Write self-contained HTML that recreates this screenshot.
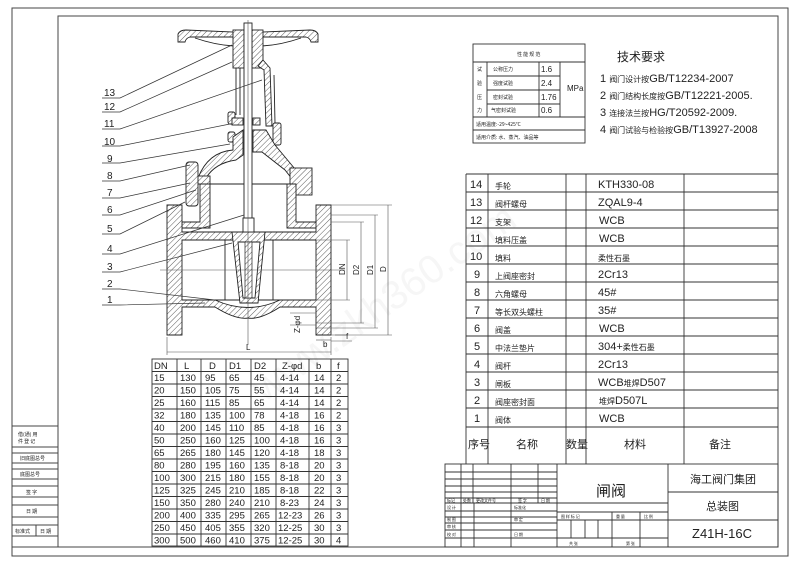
<!DOCTYPE html>
<html><head><meta charset="utf-8"><style>
html,body{margin:0;padding:0;background:#fff;}
svg{display:block;}
text{font-family:"Liberation Sans","Noto Sans CJK SC",sans-serif;fill:#222;}
.cn{font-family:"Noto Sans CJK SC","WenQuanYi Zen Hei",sans-serif;}
</style></head><body>
<svg width="800" height="565" viewBox="0 0 800 565" xmlns="http://www.w3.org/2000/svg">
<defs>
<pattern id="h" patternUnits="userSpaceOnUse" width="4" height="4" patternTransform="rotate(45)">
<rect width="4" height="4" fill="#fff"/><line x1="0" y1="0" x2="0" y2="4" stroke="#333" stroke-width="0.8"/>
</pattern>
</defs>
<rect width="800" height="565" fill="#fff"/>
<g stroke="#444" fill="none" stroke-width="1">
<rect x="12" y="8" width="776" height="548"/>
<polyline points="58,547 58,16 778,16 778,547 12,547"/>
<!-- left strip -->
<line x1="12" y1="426" x2="58" y2="426"/>
<line x1="12" y1="447" x2="58" y2="447"/>
<line x1="12" y1="453" x2="58" y2="453"/>
<line x1="12" y1="463" x2="58" y2="463"/>
<line x1="12" y1="469" x2="58" y2="469"/>
<line x1="12" y1="479" x2="58" y2="479"/>
<line x1="12" y1="486" x2="58" y2="486"/>
<line x1="12" y1="497" x2="58" y2="497"/>
<line x1="12" y1="505" x2="58" y2="505"/>
<line x1="12" y1="517" x2="58" y2="517"/>
<line x1="12" y1="525" x2="58" y2="525"/>
<line x1="12" y1="536" x2="58" y2="536"/>
<line x1="36" y1="525" x2="36" y2="536"/>
</g>
<g font-size="5" class="cn">
<text x="18" y="436" class="cn">借(通) 用</text><text x="18" y="443" class="cn">件 登 记</text>
<text x="20" y="460" class="cn">旧底图总号</text>
<text x="20" y="476" class="cn">底图总号</text>
<text x="26" y="494" class="cn">签 字</text>
<text x="26" y="513" class="cn">日 期</text>
<text x="15" y="533" class="cn">标准式</text><text x="40" y="533" class="cn">日 期</text>
</g>

<!-- spec table -->
<g stroke="#333" fill="none" stroke-width="0.9">
<rect x="473" y="44" width="112" height="99"/>
<line x1="473" y1="62" x2="585" y2="62"/>
<line x1="487" y1="76" x2="560" y2="76"/>
<line x1="487" y1="90" x2="560" y2="90"/>
<line x1="487" y1="104" x2="560" y2="104"/>
<line x1="473" y1="117" x2="585" y2="117"/>
<line x1="473" y1="130" x2="585" y2="130"/>
<line x1="487" y1="62" x2="487" y2="117"/>
<line x1="539" y1="62" x2="539" y2="117"/>
<line x1="560" y1="62" x2="560" y2="117"/>
</g>
<g font-size="5" class="cn">
<text x="517" y="56" class="cn">性 能 规 范</text>
<text x="477" y="71" class="cn">试</text><text x="477" y="85" class="cn">验</text><text x="477" y="99" class="cn">压</text><text x="477" y="112" class="cn">力</text>
<text x="493" y="71" class="cn">公称压力</text><text x="493" y="85" class="cn">强度试验</text><text x="493" y="99" class="cn">密封试验</text><text x="491" y="112" class="cn">气密封试验</text>
<text x="476" y="126" class="cn">适用温度:-29~425℃</text>
<text x="476" y="139" class="cn">适用介质: 水、蒸汽、油品等</text>
</g>
<g font-size="8"><text x="541" y="72">1.6</text><text x="541" y="86">2.4</text><text x="541" y="100">1.76</text><text x="541" y="113">0.6</text><text x="567" y="91">MPa</text></g>
<text x="617" y="61" font-size="12" class="cn">技术要求</text>
<g font-size="11">
<text x="600" y="82">1 <tspan class="cn" font-size="8">阀门设计按</tspan>GB/T12234-2007</text>
<text x="600" y="99">2 <tspan class="cn" font-size="8">阀门结构长度按</tspan>GB/T12221-2005.</text>
<text x="600" y="116">3 <tspan class="cn" font-size="8">连接法兰按</tspan>HG/T20592-2009.</text>
<text x="600" y="133">4 <tspan class="cn" font-size="8">阀门试验与检验按</tspan>GB/T13927-2008</text>
</g>

<!-- parts table -->
<g stroke="#333" fill="none" stroke-width="0.9">
<line x1="466" y1="174" x2="778" y2="174"/>
<line x1="466" y1="174" x2="466" y2="464"/>
<line x1="488" y1="174" x2="488" y2="464"/>
<line x1="566" y1="174" x2="566" y2="464"/>
<line x1="586" y1="174" x2="586" y2="464"/>
<line x1="684" y1="174" x2="684" y2="464"/>
<g id="rows">
<line x1="466" y1="192" x2="778" y2="192"/><line x1="466" y1="210" x2="778" y2="210"/>
<line x1="466" y1="228" x2="778" y2="228"/><line x1="466" y1="246" x2="778" y2="246"/>
<line x1="466" y1="264" x2="778" y2="264"/><line x1="466" y1="282" x2="778" y2="282"/>
<line x1="466" y1="300" x2="778" y2="300"/><line x1="466" y1="318" x2="778" y2="318"/>
<line x1="466" y1="336" x2="778" y2="336"/><line x1="466" y1="354" x2="778" y2="354"/>
<line x1="466" y1="372" x2="778" y2="372"/><line x1="466" y1="390" x2="778" y2="390"/>
<line x1="466" y1="408" x2="778" y2="408"/><line x1="466" y1="427" x2="778" y2="427"/>
</g>
</g>
<g font-size="11">
<text x="470" y="188">14</text><text x="470" y="206">13</text><text x="470" y="224">12</text><text x="470" y="242">11</text><text x="470" y="260">10</text>
<text x="474" y="278">9</text><text x="474" y="296">8</text><text x="474" y="314">7</text><text x="474" y="332">6</text><text x="474" y="350">5</text>
<text x="474" y="368">4</text><text x="474" y="386">3</text><text x="474" y="404">2</text><text x="474" y="422">1</text>
<text x="598" y="188">KTH330-08</text><text x="598" y="206">ZQAL9-4</text><text x="599" y="224">WCB</text><text x="599" y="242">WCB</text>
<text x="598" y="278">2Cr13</text><text x="598" y="296">45#</text><text x="598" y="314">35#</text><text x="599" y="332">WCB</text>
<text x="598" y="350">304+<tspan class="cn" font-size="8">柔性石墨</tspan></text>
<text x="598" y="368">2Cr13</text><text x="598" y="386">WCB<tspan class="cn" font-size="8">堆焊</tspan>D507</text>
<text x="599" y="404"><tspan class="cn" font-size="8">堆焊</tspan>D507L</text><text x="599" y="422">WCB</text>
</g>
<g font-size="8" class="cn">
<text x="495" y="189" class="cn">手轮</text><text x="495" y="207" class="cn">阀杆螺母</text><text x="495" y="225" class="cn">支架</text><text x="495" y="243" class="cn">填料压盖</text>
<text x="495" y="261" class="cn">填料</text><text x="495" y="279" class="cn">上阀座密封</text><text x="495" y="297" class="cn">六角螺母</text><text x="495" y="315" class="cn">等长双头螺柱</text>
<text x="495" y="333" class="cn">阀盖</text><text x="495" y="351" class="cn">中法兰垫片</text><text x="495" y="369" class="cn">阀杆</text><text x="495" y="387" class="cn">闸板</text>
<text x="495" y="405" class="cn">阀座密封面</text><text x="495" y="423" class="cn">阀体</text>
<text x="598" y="261" class="cn">柔性石墨</text>
</g>
<g font-size="11" class="cn">
<text x="468" y="448" class="cn">序号</text><text x="516" y="448" class="cn">名称</text><text x="566" y="448" class="cn">数量</text><text x="624" y="448" class="cn">材料</text><text x="709" y="448" class="cn">备注</text>
</g>

<!-- title block -->
<g stroke="#333" fill="none" stroke-width="0.9">
<rect x="445" y="464" width="333" height="83"/>
<line x1="557" y1="464" x2="557" y2="547"/>
<line x1="668" y1="464" x2="668" y2="547"/>
<line x1="668" y1="492" x2="778" y2="492"/>
<line x1="668" y1="520" x2="778" y2="520"/>
<line x1="445" y1="472" x2="557" y2="472"/><line x1="445" y1="479" x2="557" y2="479"/>
<line x1="445" y1="486" x2="557" y2="486"/><line x1="445" y1="492" x2="557" y2="492"/>
<line x1="445" y1="498" x2="557" y2="498"/><line x1="445" y1="503" x2="668" y2="503"/>
<line x1="445" y1="511" x2="557" y2="511"/><line x1="445" y1="517" x2="557" y2="517"/>
<line x1="445" y1="523" x2="557" y2="523"/><line x1="445" y1="530" x2="557" y2="530"/>
<line x1="445" y1="538" x2="557" y2="538"/>
<line x1="461" y1="464" x2="461" y2="547"/><line x1="473" y1="464" x2="473" y2="503"/>
<line x1="474" y1="503" x2="474" y2="547"/><line x1="511" y1="464" x2="511" y2="547"/>
<line x1="538" y1="464" x2="538" y2="503"/>
<line x1="557" y1="512" x2="668" y2="512"/><line x1="557" y1="520" x2="668" y2="520"/>
<line x1="557" y1="538" x2="668" y2="538"/>
<line x1="612" y1="512" x2="612" y2="547"/><line x1="640" y1="512" x2="640" y2="547"/>
<line x1="571" y1="520" x2="571" y2="538"/><line x1="585" y1="520" x2="585" y2="538"/><line x1="598" y1="520" x2="598" y2="538"/>
</g>
<g font-size="4" class="cn">
<text x="447" y="502" class="cn">标记</text><text x="463" y="502" class="cn">处数</text><text x="476" y="502" class="cn">更改文件号</text><text x="518" y="502" class="cn">签 字</text><text x="541" y="502" class="cn">日 期</text>
<text x="447" y="509" class="cn">设 计</text><text x="447" y="521" class="cn">制 图</text><text x="447" y="528" class="cn">审 核</text><text x="447" y="536" class="cn">校 对</text>
<text x="514" y="509" class="cn">标准化</text><text x="514" y="521" class="cn">审 定</text><text x="514" y="536" class="cn">日 期</text>
<text x="561" y="518" class="cn">图 样 标 记</text><text x="616" y="518" class="cn">重 量</text><text x="644" y="518" class="cn">比 例</text>
<text x="569" y="545" class="cn">共 张</text><text x="626" y="545" class="cn">第 张</text>
</g>
<text x="596" y="496" font-size="15" fill="#555" class="cn">闸阀</text>
<text x="690" y="483" font-size="11" class="cn">海工阀门集团</text>
<text x="706" y="510" font-size="11" class="cn">总装图</text>
<text x="692" y="538" font-size="13" fill="#444">Z41H-16C</text>

<!-- dimension table -->
<g stroke="#333" fill="none" stroke-width="0.9">
<rect x="152" y="359" width="196" height="187"/>
<line x1="177" y1="359" x2="177" y2="546"/><line x1="201" y1="359" x2="201" y2="546"/>
<line x1="226" y1="359" x2="226" y2="546"/><line x1="251" y1="359" x2="251" y2="546"/>
<line x1="276" y1="359" x2="276" y2="546"/><line x1="309" y1="359" x2="309" y2="546"/>
<line x1="331" y1="359" x2="331" y2="546"/>
<line x1="152" y1="371.5" x2="348" y2="371.5"/><line x1="152" y1="384" x2="348" y2="384"/>
<line x1="152" y1="396.5" x2="348" y2="396.5"/><line x1="152" y1="409" x2="348" y2="409"/>
<line x1="152" y1="421.5" x2="348" y2="421.5"/><line x1="152" y1="434" x2="348" y2="434"/>
<line x1="152" y1="446.5" x2="348" y2="446.5"/><line x1="152" y1="459" x2="348" y2="459"/>
<line x1="152" y1="471.5" x2="348" y2="471.5"/><line x1="152" y1="484" x2="348" y2="484"/>
<line x1="152" y1="496.5" x2="348" y2="496.5"/><line x1="152" y1="509" x2="348" y2="509"/>
<line x1="152" y1="521.5" x2="348" y2="521.5"/><line x1="152" y1="534" x2="348" y2="534"/>
</g>
<g font-size="9.5" fill="#333">
<text x="154" y="369">DN</text><text x="184" y="369">L</text><text x="209" y="369">D</text><text x="229" y="369">D1</text><text x="254" y="369">D2</text><text x="282" y="369">Z-φd</text><text x="316" y="369">b</text><text x="337" y="369">f</text>
</g>
<g font-size="9.5" id="dt"></g>
<g font-size="9.5">
<text y="381"><tspan x="154">15</tspan><tspan x="180">130</tspan><tspan x="205">95</tspan><tspan x="229">65</tspan><tspan x="254">45</tspan><tspan x="280">4-14</tspan><tspan x="314">14</tspan><tspan x="336">2</tspan></text>
<text y="393.5"><tspan x="154">20</tspan><tspan x="180">150</tspan><tspan x="205">105</tspan><tspan x="229">75</tspan><tspan x="254">55</tspan><tspan x="280">4-14</tspan><tspan x="314">14</tspan><tspan x="336">2</tspan></text>
<text y="406"><tspan x="154">25</tspan><tspan x="180">160</tspan><tspan x="205">115</tspan><tspan x="229">85</tspan><tspan x="254">65</tspan><tspan x="280">4-14</tspan><tspan x="314">14</tspan><tspan x="336">2</tspan></text>
<text y="418.5"><tspan x="154">32</tspan><tspan x="180">180</tspan><tspan x="205">135</tspan><tspan x="229">100</tspan><tspan x="254">78</tspan><tspan x="280">4-18</tspan><tspan x="314">16</tspan><tspan x="336">2</tspan></text>
<text y="431"><tspan x="154">40</tspan><tspan x="180">200</tspan><tspan x="205">145</tspan><tspan x="229">110</tspan><tspan x="254">85</tspan><tspan x="280">4-18</tspan><tspan x="314">16</tspan><tspan x="336">3</tspan></text>
<text y="443.5"><tspan x="154">50</tspan><tspan x="180">250</tspan><tspan x="205">160</tspan><tspan x="229">125</tspan><tspan x="254">100</tspan><tspan x="280">4-18</tspan><tspan x="314">16</tspan><tspan x="336">3</tspan></text>
<text y="456"><tspan x="154">65</tspan><tspan x="180">265</tspan><tspan x="205">180</tspan><tspan x="229">145</tspan><tspan x="254">120</tspan><tspan x="280">4-18</tspan><tspan x="314">18</tspan><tspan x="336">3</tspan></text>
<text y="468.5"><tspan x="154">80</tspan><tspan x="180">280</tspan><tspan x="205">195</tspan><tspan x="229">160</tspan><tspan x="254">135</tspan><tspan x="280">8-18</tspan><tspan x="314">20</tspan><tspan x="336">3</tspan></text>
<text y="481"><tspan x="154">100</tspan><tspan x="180">300</tspan><tspan x="205">215</tspan><tspan x="229">180</tspan><tspan x="254">155</tspan><tspan x="280">8-18</tspan><tspan x="314">20</tspan><tspan x="336">3</tspan></text>
<text y="493.5"><tspan x="154">125</tspan><tspan x="180">325</tspan><tspan x="205">245</tspan><tspan x="229">210</tspan><tspan x="254">185</tspan><tspan x="280">8-18</tspan><tspan x="314">22</tspan><tspan x="336">3</tspan></text>
<text y="506"><tspan x="154">150</tspan><tspan x="180">350</tspan><tspan x="205">280</tspan><tspan x="229">240</tspan><tspan x="254">210</tspan><tspan x="280">8-23</tspan><tspan x="314">24</tspan><tspan x="336">3</tspan></text>
<text y="518.5"><tspan x="154">200</tspan><tspan x="180">400</tspan><tspan x="205">335</tspan><tspan x="229">295</tspan><tspan x="254">265</tspan><tspan x="278">12-23</tspan><tspan x="314">26</tspan><tspan x="336">3</tspan></text>
<text y="531"><tspan x="154">250</tspan><tspan x="180">450</tspan><tspan x="205">405</tspan><tspan x="229">355</tspan><tspan x="254">320</tspan><tspan x="278">12-25</tspan><tspan x="314">30</tspan><tspan x="336">3</tspan></text>
<text y="543.5"><tspan x="154">300</tspan><tspan x="180">500</tspan><tspan x="205">460</tspan><tspan x="229">410</tspan><tspan x="254">375</tspan><tspan x="278">12-25</tspan><tspan x="314">30</tspan><tspan x="336">4</tspan></text>
</g>

<!-- valve drawing -->
<g stroke="#222" stroke-width="0.9" fill="url(#h)">
<!-- handwheel -->
<path d="M178,42 L178,34 Q180,30 186,30 L234,32 L234,37 L190,37 Q186,38 185,42 Z"/>
<path d="M318,42 L318,34 Q316,30 310,30 L262,32 L262,37 L306,37 Q310,38 311,42 Z"/>
<path d="M195,38 Q215,45 234,46" fill="none"/><path d="M301,38 Q281,45 262,46" fill="none"/>
<!-- nut / packing -->
<rect x="233" y="30" width="11" height="38"/><rect x="252" y="30" width="11" height="38"/>
<!-- yoke right arm -->
<path d="M263,60 L270,68 L272,126 L266,126 L264,70 L258,66 Z"/>
<line x1="236" y1="68" x2="236" y2="115" fill="none"/><line x1="240" y1="68" x2="240" y2="115" fill="none"/>
<line x1="274" y1="75" x2="275" y2="123" fill="none"/>
<!-- bolts upper -->
<rect x="228" y="112" width="7" height="12" rx="2"/><rect x="228" y="132" width="7" height="10" rx="2"/>
<rect x="273" y="123" width="8" height="22" rx="2"/>
<!-- gland -->
<rect x="232" y="118" width="11" height="7"/><rect x="253" y="118" width="7" height="7"/>
<!-- bonnet -->
<path d="M233,137 L243,130 L243,155 L236,160 Q215,163 206,178 L198,178 Q208,152 233,150 Z"/>
<path d="M253,130 L266,130 L275,145 L300,175 L305,180 L296,184 L285,170 L262,152 L253,152 Z"/>
<!-- body flange / neck -->
<rect x="290" y="168" width="22" height="27"/>
<rect x="196" y="176" width="14" height="8"/>
<rect x="186" y="162" width="12" height="44" rx="3"/>
<path d="M200,184 L210,184 L210,228 L182,228 L182,222 L200,222 Z"/>
<path d="M287,184 L296,184 L296,222 L317,222 L317,228 L287,228 Z"/>
<!-- flanges -->
<path d="M167,205 L182,205 L182,232 L316,232 L316,205 L331,205 L331,335 L316,335 L316,307 L280,307 Q260,320 248,318 Q236,320 215,307 L182,307 L182,335 L167,335 Z"/>
</g>
<g stroke="#222" stroke-width="0.9" fill="#fff">
<rect x="182" y="240" width="134" height="60"/>
<path d="M215,300 Q248,315 280,300" />
</g>
<g stroke="#222" stroke-width="0.9" fill="none">
<line x1="182" y1="240" x2="316" y2="240"/><line x1="182" y1="300" x2="316" y2="300"/>
<line x1="205" y1="184" x2="290" y2="184"/>
<line x1="225" y1="240" x2="225" y2="300"/><line x1="273" y1="240" x2="273" y2="300"/>
</g>
<!-- stem -->
<rect x="244" y="23" width="8" height="205" fill="#fff" stroke="#222" stroke-width="0.9"/>
<!-- wedge -->
<path d="M232,232 L265,232 L258,303 L240,303 Z" fill="url(#h)" stroke="#222" stroke-width="0.9"/>
<path d="M238,242 L260,242 L255,298 L243,298 Z" fill="#fff" stroke="#222" stroke-width="0.9"/>
<rect x="245" y="242" width="7" height="56" fill="url(#h)" stroke="#222" stroke-width="0.7"/>
<rect x="243" y="218" width="11" height="14" fill="#fff" stroke="#222" stroke-width="0.9"/>
<!-- centerlines -->
<g stroke="#555" stroke-width="0.6" fill="none">
<line x1="160" y1="270" x2="345" y2="270"/>
<line x1="248" y1="20" x2="248" y2="345"/>
<!-- dimension lines -->
<line x1="331" y1="205" x2="392" y2="205"/><line x1="331" y1="335" x2="392" y2="335"/>
<line x1="331" y1="215" x2="378" y2="215"/><line x1="316" y1="328" x2="378" y2="328"/>
<line x1="331" y1="222" x2="364" y2="222"/><line x1="316" y1="323" x2="364" y2="323"/>
<line x1="316" y1="240" x2="350" y2="240"/><line x1="316" y1="300" x2="350" y2="300"/>
<line x1="347" y1="240" x2="347" y2="300"/><line x1="361" y1="222" x2="361" y2="323"/>
<line x1="375" y1="215" x2="375" y2="328"/><line x1="388" y1="205" x2="388" y2="335"/>
<line x1="167" y1="337" x2="167" y2="355"/><line x1="331" y1="337" x2="331" y2="355"/>
<line x1="167" y1="352" x2="331" y2="352"/>
<line x1="316" y1="340" x2="331" y2="340"/><line x1="335" y1="335" x2="348" y2="335"/><line x1="331" y1="341" x2="352" y2="341"/>
<line x1="290" y1="313" x2="316" y2="313"/><line x1="290" y1="325" x2="316" y2="325"/>
</g>
<g font-size="8" fill="#333">
<text transform="translate(345,275) rotate(-90)">DN</text>
<text transform="translate(359,275) rotate(-90)">D2</text>
<text transform="translate(373,275) rotate(-90)">D1</text>
<text transform="translate(386,272) rotate(-90)">D</text>
<text transform="translate(300,333) rotate(-90)">Z-φd</text>
<text x="246" y="350">L</text><text x="323" y="347">b</text><text x="346" y="339">f</text>
</g>
<!-- leaders -->
<g stroke="#333" stroke-width="0.7" fill="none">
<polyline points="102,98 120,98 232,45"/>
<polyline points="102,112 120,112 232,62"/>
<polyline points="102,129 120,129 262,80"/>
<polyline points="102,146 120,146 230,124"/>
<polyline points="102,163 120,163 230,144"/>
<polyline points="102,181 120,181 190,165"/>
<polyline points="102,198 120,198 190,183"/>
<polyline points="102,215 120,215 196,190"/>
<polyline points="102,234 120,234 185,202"/>
<polyline points="102,254 120,254 244,215"/>
<polyline points="102,272 120,272 232,243"/>
<polyline points="102,289 120,289 215,300"/>
<polyline points="102,305 120,305 205,303"/>
</g>
<g font-size="10" fill="#333">
<text x="104" y="96">13</text><text x="104" y="110">12</text><text x="104" y="127">11</text><text x="104" y="145">10</text>
<text x="107" y="162">9</text><text x="107" y="179">8</text><text x="107" y="196">7</text><text x="107" y="213">6</text>
<text x="107" y="232">5</text><text x="107" y="252">4</text><text x="107" y="270">3</text><text x="107" y="287">2</text><text x="107" y="303">1</text>
</g>
<text x="200" y="360" font-size="40" fill="#000" fill-opacity="0.04" transform="rotate(-35 300 280)">www.zkh360.com</text>
</svg>
</body></html>
